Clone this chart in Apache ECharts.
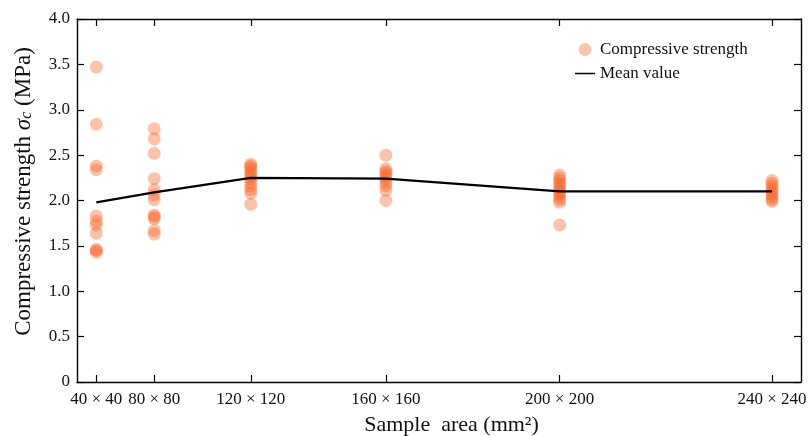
<!DOCTYPE html>
<html>
<head>
<meta charset="utf-8">
<script src="https://cdn.jsdelivr.net/npm/echarts@6/dist/echarts.min.js"></script>
<style>html,body{margin:0;padding:0;background:#fff}#c{width:809px;height:436px}</style>
</head>
<body>
<div id="c"></div>
<script>
// Sample sizes (x positions are the sample areas in mm²)
var sampleArea = [1600, 6400, 14400, 25600, 40000, 57600];
var sampleLabels = ['40 × 40', '80 × 80', '120 × 120', '160 × 160', '200 × 200', '240 × 240'];
// Compressive strength (MPa) per sample size
var strength40 = [3.47, 2.84, 2.38, 2.34, 1.83, 1.77, 1.73, 1.64, 1.46, 1.45, 1.43];
var strength80 = [2.79, 2.68, 2.52, 2.24, 2.12, 2.06, 2.01, 1.84, 1.82, 1.80, 1.67, 1.63];
var strength120 = [2.40, 2.38, 2.36, 2.33, 2.30, 2.27, 2.24, 2.20, 2.16, 2.12, 2.08, 1.96];
var strength160 = [2.50, 2.35, 2.32, 2.30, 2.27, 2.24, 2.20, 2.16, 2.11, 2.00];
var strength200 = [2.28, 2.25, 2.22, 2.19, 2.16, 2.13, 2.10, 2.07, 2.04, 2.01, 1.98, 1.73];
var strength240 = [2.22, 2.19, 2.16, 2.13, 2.10, 2.07, 2.04, 2.01, 1.99];
var meanValues = [1.98, 2.09, 2.25, 2.24, 2.10, 2.10];

var groups = [strength40, strength80, strength120, strength160, strength200, strength240];
var scatterData = [];
groups.forEach(function (g, i) {
  g.forEach(function (v) { scatterData.push([sampleArea[i], v]); });
});
var meanData = sampleArea.map(function (a, i) { return [a, meanValues[i]]; });

var FONT = 'Liberation Serif';
var axisLine = { show: true, onZero: false, lineStyle: { color: '#000', width: 1.4 } };
var chart = echarts.init(document.getElementById('c'));
chart.setOption({
  animation: false,
  textStyle: { fontFamily: FONT },
  grid: { left: 77, right: 8, top: 19, bottom: 54, containLabel: false, outerBoundsMode: 'none' },
  legend: {
    orient: 'vertical', left: 570, top: 36, itemWidth: 20, itemHeight: 13, itemGap: 7,
    textStyle: { fontFamily: FONT, fontSize: 17, color: '#111' },
    data: [
      { name: 'Compressive strength', icon: 'circle' },
      { name: 'Mean value', icon: 'path://M0,0H40V3H0Z' }
    ]
  },
  xAxis: [{
    type: 'value', min: 0, max: 60000, position: 'bottom',
    name: 'Sample  area (mm²)', nameLocation: 'middle', nameGap: 32,
    nameTextStyle: { fontFamily: FONT, fontSize: 22, color: '#111', padding: [0, 0, 0, 25] },
    axisLine: axisLine,
    splitLine: { show: false },
    axisTick: { show: true, inside: true, length: 7, customValues: sampleArea, lineStyle: { color: '#000', width: 1.2 } },
    axisLabel: {
      show: true, customValues: sampleArea, margin: 9, fontFamily: FONT, fontSize: 17, color: '#111',
      formatter: function (v) { var i = sampleArea.indexOf(v); return i >= 0 ? sampleLabels[i] : ''; }
    }
  }, {
    type: 'value', min: 0, max: 60000, position: 'top',
    axisLine: axisLine, splitLine: { show: false },
    axisTick: { show: true, inside: true, length: 7, customValues: sampleArea, lineStyle: { color: '#000', width: 1.2 } },
    axisLabel: { show: false }
  }],
  yAxis: [{
    type: 'value', min: 0, max: 4, interval: 0.5, position: 'left',
    name: 'Compressive strength {i|σ}{s|c} (MPa)', nameLocation: 'middle', nameGap: 42,
    nameTextStyle: {
      fontFamily: FONT, fontSize: 23, color: '#111', padding: [0, 0, 0, 18],
      rich: {
        i: { fontFamily: FONT, fontSize: 23, fontStyle: 'italic', color: '#111' },
        s: { fontFamily: FONT, fontSize: 16, fontStyle: 'italic', color: '#111', verticalAlign: 'bottom', padding: [7, 0, 0, 0] }
      }
    },
    axisLine: axisLine, splitLine: { show: false },
    axisTick: { show: true, inside: true, length: 7, lineStyle: { color: '#000', width: 1.2 } },
    axisLabel: {
      fontFamily: FONT, fontSize: 17, color: '#111', margin: 7,
      formatter: function (v) { return v === 0 ? '0' : v.toFixed(1); }
    }
  }, {
    type: 'value', min: 0, max: 4, interval: 0.5, position: 'right',
    axisLine: axisLine, splitLine: { show: false },
    axisTick: { show: true, inside: true, length: 7, lineStyle: { color: '#000', width: 1.2 } },
    axisLabel: { show: false }
  }],
  series: [{
    name: 'Compressive strength', type: 'scatter', xAxisIndex: 0, yAxisIndex: 0,
    symbol: 'circle', symbolSize: 13,
    itemStyle: { color: 'rgba(248,98,40,0.48)' },
    data: scatterData, z: 2
  }, {
    name: 'Mean value', type: 'line', xAxisIndex: 0, yAxisIndex: 0,
    symbol: 'none', lineStyle: { color: '#000', width: 2.2 },
    itemStyle: { color: '#000' },
    data: meanData, z: 3
  }]
});
</script>
</body>
</html>
